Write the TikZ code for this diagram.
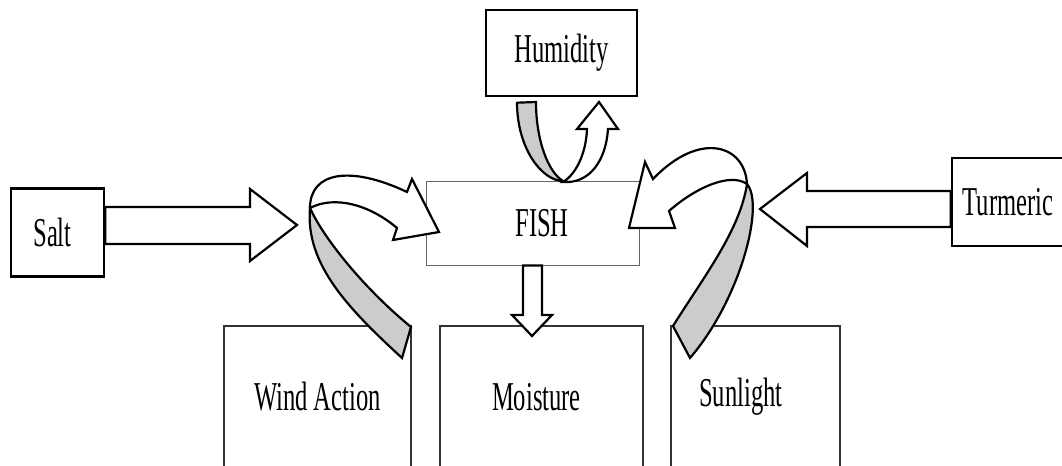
\documentclass[tikz,border=0pt]{standalone}
\usepackage{fontspec}
\setmainfont[FakeStretch=0.6]{Liberation Serif}
\usetikzlibrary{positioning}
\definecolor{ribbonGray}{HTML}{CCCCCC}

\begin{document}
\begin{tikzpicture}[
  x=0.5pt, y=-0.5pt,
  every node/.style={font=\fontsize{20.5}{24}\selectfont, align=center, inner sep=0pt},
  sidebox/.style={
    draw,
    line width=1.2pt,
    minimum height=44pt
  },
  topbox/.style={
    draw,
    line width=0.7pt,
    minimum width=75.5pt,
    minimum height=43pt
  },
  fishbox/.style={
    draw=black!60,
    line width=0.5pt,
    minimum width=106.5pt,
    minimum height=42pt
  },
  lowbox/.style={
    draw=black!80,
    line width=0.6pt,
    minimum height=71pt
  },
  fatarrow/.style={draw, fill=white, line width=1.1pt, line join=miter},
  ribbonback/.style={draw, fill=ribbonGray, line width=1.1pt},
  ribbonfront/.style={draw, fill=white, line width=1.1pt}
]

\useasboundingbox (0,0) rectangle (1062,466);

\node[sidebox, minimum width=46.5pt] (salt) at (57.5,232.5) {Salt\hspace{5pt}};
\node[sidebox, minimum width=56pt] (turmeric) at (1008,202) {Turmeric};
\node[topbox] (humidity) at (561.5,53) {Humidity};
\node[fishbox] (fish) at (532.5,223) {\hspace{9.5pt}FISH};

\node[lowbox, minimum width=93.5pt] (wind) at (317.5,397) {Wind Action};
\node[lowbox, minimum width=101.5pt] (moisture) at (541.5,397) {Moisture\hspace{5pt}};
\node[lowbox, minimum width=84.5pt] (sun) at (755.5,397) {Sunlight\hspace{14.5pt}};

\draw[fatarrow] (salt.east |- 0,207) -- (250,207) -- (250,189) -- (297,225)
  -- (250,261) -- (250,244) -- (salt.east |- 0,244) -- cycle;
\draw[fatarrow] (turmeric.west |- 0,191) -- (807,191) -- (807,173) -- (760,209)
  -- (807,246) -- (807,227) -- (turmeric.west |- 0,227) -- cycle;
\draw[fatarrow] (fish.south -| 523,0) -- (523,315) -- (512,315) -- (532,336)
  -- (552,315) -- (542,315) -- (fish.south -| 542,0) -- cycle;

\draw[ribbonback] (402,358) .. controls (350,310) and (305,265) .. (310,208)
  .. controls (322,235) and (360,285) .. (411,327) -- cycle;
\draw[ribbonfront] (310,208) .. controls (310,172) and (350,165) .. (407,192)
  -- (412,179) -- (439,232) -- (393,240) -- (397,228)
  .. controls (370,205) and (335,195) .. (310,208) -- cycle;

\draw[ribbonback] (673,326) .. controls (705,275) and (740,230) .. (747,184)
  .. controls (765,205) and (740,300) .. (690,358) -- cycle;
\draw[ribbonfront] (747,184) .. controls (745,145) and (700,130) .. (653,179)
  -- (645,162) -- (629,228) -- (675,228) -- (669,211)
  .. controls (695,188) and (730,172) .. (747,184) -- cycle;

\draw[ribbonback] (humidity.south -| 517,0) ++(0,6) -- (536,102)
  .. controls (536,140) and (548,172) .. (563,181)
  .. controls (543,181) and (517,150) .. (517,102) -- cycle;
\draw[ribbonfront] (563,182) .. controls (590,184) and (606,160) .. (608,129)
  -- (618,129) -- (599,102) -- (577,129) -- (587,129)
  .. controls (586,155) and (575,175) .. (563,182) -- cycle;

\end{tikzpicture}
\end{document}
